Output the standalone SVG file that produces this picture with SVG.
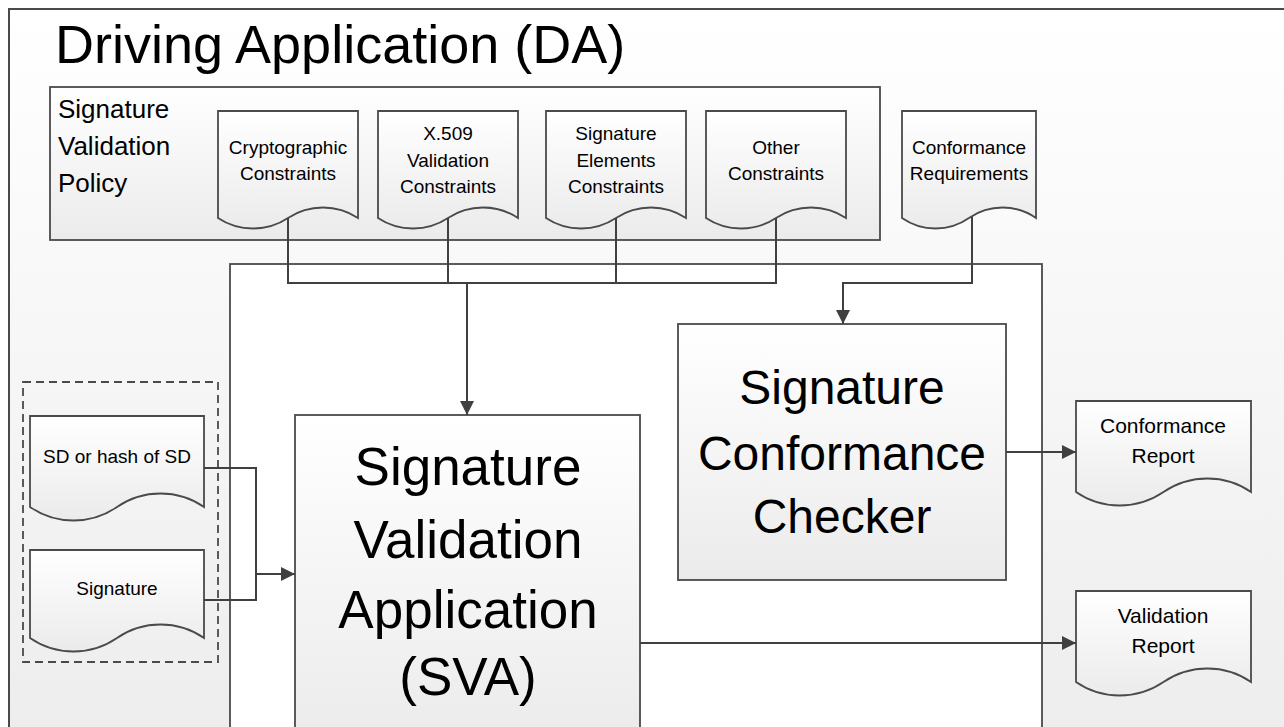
<svg xmlns="http://www.w3.org/2000/svg" width="1284" height="727" viewBox="0 0 1284 727">
<defs>
<linearGradient id="gOuter" x1="0" y1="0" x2="0" y2="1"><stop offset="0" stop-color="#ffffff"/><stop offset="1" stop-color="#ededed"/></linearGradient>
<linearGradient id="gBox" x1="0" y1="0" x2="0" y2="1"><stop offset="0" stop-color="#ffffff"/><stop offset="1" stop-color="#ebebeb"/></linearGradient>
<marker id="arr" markerUnits="userSpaceOnUse" markerWidth="14" markerHeight="14" viewBox="0 0 14 14" refX="14" refY="7" orient="auto"><path d="M0,0 L14,7 L0,14 Z" fill="#404040"/></marker>
<style>
.box{stroke:#4a4a4a;stroke-width:1.8;fill:url(#gBox)}
.doc{stroke:#4a4a4a;stroke-width:1.8;fill:url(#gBox)}
.t{font-family:"Liberation Sans",Arial,sans-serif;fill:#000}
.c{text-anchor:middle}
.s{font-size:19px}
.r{font-size:21px}
.big{font-size:48px}
.sva{font-size:53px}
.conn{fill:none;stroke:#404040;stroke-width:2}
</style>
</defs>
<g id="da">
<rect x="9" y="9" width="1290" height="730" fill="url(#gOuter)" stroke="#4a4a4a" stroke-width="2"/>
<text class="t" x="55" y="63" font-size="54">Driving Application (DA)</text>
</g>
<g id="policy">
<rect class="box" x="50" y="87" width="830" height="153"/>
<text class="t" font-size="26"><tspan x="58" y="118">Signature</tspan><tspan x="58" y="155">Validation</tspan><tspan x="58" y="192">Policy</tspan></text>
</g>
<g id="container">
<rect x="230" y="264" width="812" height="480" fill="#ffffff" stroke="#4a4a4a" stroke-width="1.8"/>
</g>
<g id="crypto">
<path class="doc" d="M218,111 H358 V218 C337,204 309,204 288,218 C267,232 239,232 218,218 Z"/>
<text class="t c s"><tspan x="288" y="154">Cryptographic</tspan><tspan x="288" y="180">Constraints</tspan></text>
</g>
<g id="x509">
<path class="doc" d="M378,111 H518 V218 C497,204 469,204 448,218 C427,232 399,232 378,218 Z"/>
<text class="t c s"><tspan x="448" y="140">X.509</tspan><tspan x="448" y="167">Validation</tspan><tspan x="448" y="193">Constraints</tspan></text>
</g>
<g id="sigel">
<path class="doc" d="M546,111 H686 V218 C665,204 637,204 616,218 C595,232 567,232 546,218 Z"/>
<text class="t c s"><tspan x="616" y="140">Signature</tspan><tspan x="616" y="167">Elements</tspan><tspan x="616" y="193">Constraints</tspan></text>
</g>
<g id="other">
<path class="doc" d="M706,111 H846 V218 C825,204 797,204 776,218 C755,232 727,232 706,218 Z"/>
<text class="t c s"><tspan x="776" y="154">Other</tspan><tspan x="776" y="180">Constraints</tspan></text>
</g>
<g id="confreq">
<path class="doc" d="M902,111 H1036 V218 C1016,204 989,204 969,218 C949,232 922,232 902,218 Z"/>
<text class="t c s"><tspan x="969" y="154">Conformance</tspan><tspan x="969" y="180">Requirements</tspan></text>
</g>
<g id="inputs">
<rect x="23" y="382" width="195" height="280" fill="none" stroke="#4a4a4a" stroke-width="1.8" stroke-dasharray="8,5"/>
</g>
<g id="sd">
<path class="doc" d="M30,416 H204 V507 C178,489 143,489 117,507 C91,525 56,525 30,507 Z"/>
<text class="t c s" x="117" y="463">SD or hash of SD</text>
</g>
<g id="sig">
<path class="doc" d="M30,550 H204 V638 C178,620 143,620 117,638 C91,656 56,656 30,638 Z"/>
<text class="t c s" x="117" y="595">Signature</text>
</g>
<g id="scc">
<rect class="box" x="678" y="324" width="328" height="256"/>
<text class="t c big"><tspan x="842" y="404">Signature</tspan><tspan x="842" y="470">Conformance</tspan><tspan x="842" y="533">Checker</tspan></text>
</g>
<g id="sva">
<rect class="box" x="295" y="415" width="345" height="330"/>
<text class="t c sva"><tspan x="468" y="485">Signature</tspan><tspan x="468" y="558">Validation</tspan><tspan x="468" y="628">Application</tspan><tspan x="468" y="695">(SVA)</tspan></text>
</g>
<g id="confrep">
<path class="doc" d="M1076,401 H1251 V492 C1225,474 1190,474 1163.5,492 C1137,510 1102,510 1076,492 Z"/>
<text class="t c r"><tspan x="1163" y="433">Conformance</tspan><tspan x="1163" y="463">Report</tspan></text>
</g>
<g id="valrep">
<path class="doc" d="M1076,591 H1251 V682 C1225,664 1190,664 1163.5,682 C1137,700 1102,700 1076,682 Z"/>
<text class="t c r"><tspan x="1163" y="623">Validation</tspan><tspan x="1163" y="653">Report</tspan></text>
</g>
<g id="connectors">
<path class="conn" d="M288,218 V283 M448,218 V283 M616,218 V283 M776,218 V283 M287,283 H777"/>
<path class="conn" d="M467,283 V415" marker-end="url(#arr)"/>
<path class="conn" d="M972,217 V283 H843 V324" marker-end="url(#arr)"/>
<path class="conn" d="M204,468 H256 V600 H204"/>
<path class="conn" d="M256,574 H295" marker-end="url(#arr)"/>
<path class="conn" d="M1006,452 H1076" marker-end="url(#arr)"/>
<path class="conn" d="M640,643 H1076" marker-end="url(#arr)"/>
</g>
</svg>
